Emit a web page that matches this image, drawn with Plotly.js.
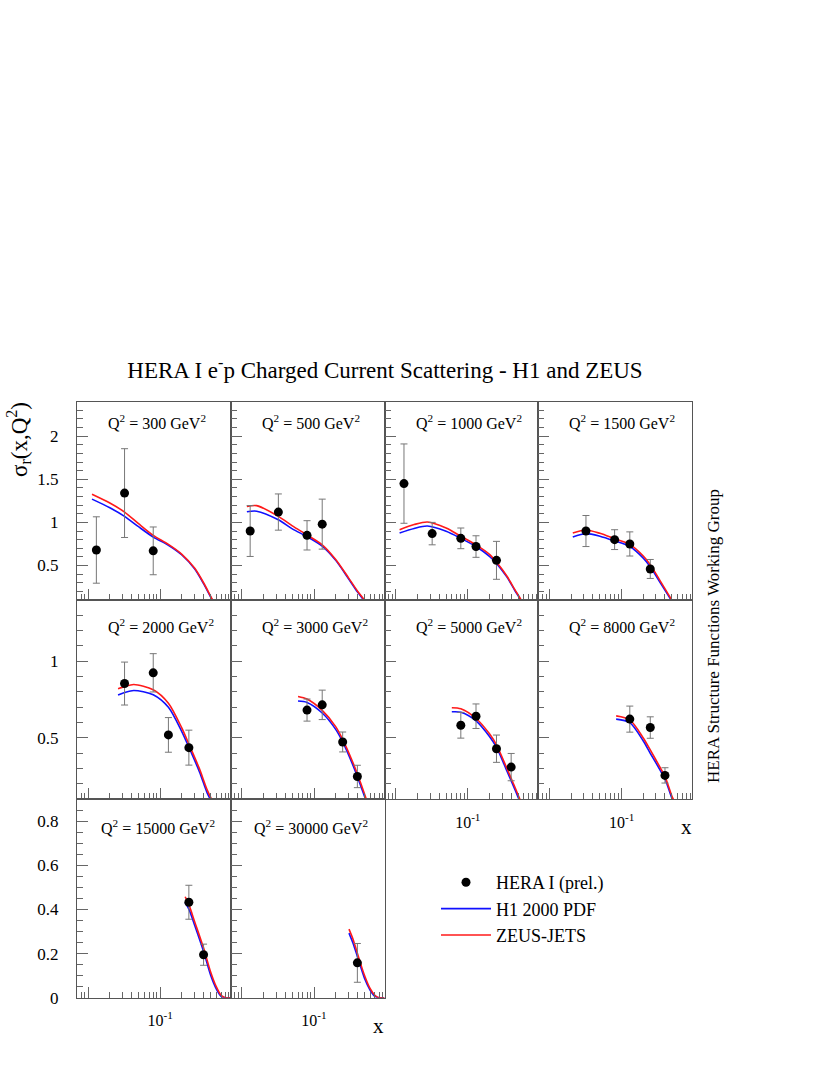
<!DOCTYPE html>
<html><head><meta charset="utf-8">
<script src="https://cdn.plot.ly/plotly-3.0.1.min.js"></script>
<style>body{margin:0;background:#fff}</style>
</head><body><div id="chart" style="width:830px;height:1075px"></div>
<script>
// ---------- DATA ----------
const q2Labels = ['300','500','1000','1500','2000','3000','5000','8000','15000','30000'];

// HERA I (prel.) data points: x, sigma_r, error
const x300 = [0.013, 0.032, 0.08];            const y300 = [0.68, 1.34, 0.67];              const e300 = [0.385, 0.515, 0.277];
const x500 = [0.013, 0.032, 0.08, 0.13];      const y500 = [0.90, 1.12, 0.85, 0.98];        const e500 = [0.295, 0.21, 0.17, 0.29];
const x1000 = [0.013, 0.032, 0.08, 0.13, 0.25]; const y1000 = [1.45, 0.87, 0.815, 0.72, 0.56]; const e1000 = [0.46, 0.13, 0.12, 0.125, 0.22];
const x1500 = [0.032, 0.08, 0.13, 0.25];      const y1500 = [0.90, 0.80, 0.75, 0.46];       const e1500 = [0.18, 0.115, 0.14, 0.11];
const x2000 = [0.032, 0.08, 0.13, 0.25];      const y2000 = [0.855, 0.925, 0.52, 0.437];    const e2000 = [0.14, 0.125, 0.113, 0.114];
const x3000 = [0.08, 0.13, 0.25, 0.4];        const y3000 = [0.682, 0.716, 0.474, 0.249];   const e3000 = [0.072, 0.096, 0.065, 0.073];
const x5000 = [0.08, 0.13, 0.25, 0.4];        const y5000 = [0.583, 0.642, 0.43, 0.31];     const e5000 = [0.084, 0.08, 0.089, 0.089];
const x8000 = [0.13, 0.25, 0.4];              const y8000 = [0.623, 0.568, 0.256];          const e8000 = [0.085, 0.07, 0.05];
const x15000 = [0.25, 0.4];                   const y15000 = [0.433, 0.195];                const e15000 = [0.077, 0.048];
const x30000 = [0.4];                         const y30000 = [0.158];                       const e30000 = [0.088];

// Theory curves: H1 2000 PDF (blue) and ZEUS-JETS (red)
const cx300 = [0.0113, 0.02, 0.032, 0.05, 0.08, 0.13, 0.2, 0.3, 0.4, 0.5, 0.6];
const zeus300 = [1.327, 1.225, 1.12, 0.985, 0.85, 0.745, 0.63, 0.47, 0.30, 0.146, 0.02];
const h1_300 = [1.27, 1.17, 1.07, 0.95, 0.83, 0.735, 0.622, 0.462, 0.29, 0.135, 0.01];

const cx500 = [0.0117, 0.016, 0.032, 0.05, 0.08, 0.13, 0.2, 0.3, 0.4, 0.5, 0.6];
const zeus500 = [1.185, 1.195, 1.07, 0.96, 0.855, 0.74, 0.57, 0.36, 0.205, 0.1, 0.0];
const h1_500 = [1.123, 1.13, 1.03, 0.925, 0.835, 0.725, 0.56, 0.35, 0.195, 0.09, -0.01];

const cx1000 = [0.0113, 0.018, 0.0275, 0.05, 0.08, 0.13, 0.2, 0.25, 0.35, 0.45, 0.55, 0.62];
const zeus1000 = [0.916, 0.975, 1.005, 0.935, 0.839, 0.74, 0.63, 0.54, 0.375, 0.22, 0.1, 0.0];
const h1_1000 = [0.878, 0.93, 0.958, 0.897, 0.815, 0.72, 0.605, 0.525, 0.365, 0.21, 0.09, -0.01];

const cx1500 = [0.021, 0.032, 0.05, 0.08, 0.13, 0.2, 0.25, 0.35, 0.45, 0.55];
const zeus1500 = [0.878, 0.912, 0.873, 0.81, 0.745, 0.61, 0.51, 0.31, 0.16, 0.04];
const h1_1500 = [0.832, 0.87, 0.84, 0.785, 0.72, 0.585, 0.485, 0.29, 0.145, 0.03];

const cx2000 = [0.026, 0.032, 0.043, 0.08, 0.13, 0.2, 0.25, 0.35, 0.45, 0.55];
const zeus2000 = [0.821, 0.835, 0.849, 0.815, 0.727, 0.564, 0.46, 0.30, 0.16, 0.075];
const h1_2000 = [0.78, 0.796, 0.81, 0.782, 0.70, 0.54, 0.44, 0.28, 0.14, 0.06];

const cx3000 = [0.06, 0.08, 0.13, 0.2, 0.25, 0.35, 0.4, 0.5, 0.55];
const zeus3000 = [0.771, 0.754, 0.68, 0.574, 0.491, 0.335, 0.265, 0.138, 0.08];
const h1_3000 = [0.741, 0.732, 0.663, 0.556, 0.474, 0.318, 0.248, 0.122, 0.065];

const cx5000 = [0.06, 0.08, 0.13, 0.2, 0.25, 0.35, 0.45, 0.55];
const zeus5000 = [0.697, 0.69, 0.627, 0.527, 0.455, 0.30, 0.18, 0.08];
const h1_5000 = [0.671, 0.668, 0.612, 0.51, 0.44, 0.283, 0.165, 0.065];

const cx8000 = [0.084, 0.13, 0.2, 0.25, 0.35, 0.4, 0.5, 0.55];
const zeus8000 = [0.644, 0.618, 0.50, 0.422, 0.30, 0.25, 0.12, 0.08];
const h1_8000 = [0.623, 0.60, 0.48, 0.40, 0.283, 0.235, 0.105, 0.065];

const cx15000 = [0.222, 0.25, 0.3, 0.4, 0.5, 0.6, 0.7, 0.8, 0.95];
const zeus15000 = [0.458, 0.422, 0.346, 0.225, 0.118, 0.05, 0.011, 0.0, 0.0];
const h1_15000 = [0.43, 0.402, 0.33, 0.21, 0.103, 0.04, 0.006, 0.0, 0.0];

const cx30000 = [0.306, 0.35, 0.4, 0.5, 0.6, 0.7, 0.8, 0.95];
const zeus30000 = [0.311, 0.263, 0.202, 0.103, 0.042, 0.011, 0.0, 0.0];
const h1_30000 = [0.293, 0.245, 0.187, 0.09, 0.035, 0.006, 0.0, 0.0];

const xMajorTicks = [0.01, 0.1];
const xMajorText = ['', '10<sup>-1</sup>'];
const xMinorTicks = [0.008, 0.009, 0.02, 0.03, 0.04, 0.05, 0.06, 0.07, 0.08, 0.09, 0.2, 0.3, 0.4, 0.5, 0.6, 0.7, 0.8, 0.9];

const seriesNames = ['HERA I (prel.)', 'H1 2000 PDF', 'ZEUS-JETS'];

// ---------- BUILD ----------
const pts = [[x300,y300,e300],[x500,y500,e500],[x1000,y1000,e1000],[x1500,y1500,e1500],[x2000,y2000,e2000],
             [x3000,y3000,e3000],[x5000,y5000,e5000],[x8000,y8000,e8000],[x15000,y15000,e15000],[x30000,y30000,e30000]];
const curves = [[cx300,h1_300,zeus300],[cx500,h1_500,zeus500],[cx1000,h1_1000,zeus1000],[cx1500,h1_1500,zeus1500],
                [cx2000,h1_2000,zeus2000],[cx3000,h1_3000,zeus3000],[cx5000,h1_5000,zeus5000],[cx8000,h1_8000,zeus8000],
                [cx15000,h1_15000,zeus15000],[cx30000,h1_30000,zeus30000]];

const W = 830, H = 1075;
const FONT = 'Liberation Serif, Times New Roman, serif';
const colEdges = [77, 230.8, 384.6, 538.4, 692.2];
const rowEdges = [401.7, 600, 799.3, 997.7];
const rowAxes = [
  {range:[0.1, 2.4], dtick:0.5, minor:0.1},
  {range:[0.1, 1.4], dtick:0.5, minor:0.1},
  {range:[0, 0.9], dtick:0.2, minor:0.05}
];
const lineCol = '#555';
const traces = [];
const layout = {
  width: W, height: H,
  margin: {l:0, r:0, t:0, b:0},
  paper_bgcolor: '#fff', plot_bgcolor: '#fff',
  font: {family: FONT, size: 16, color: '#000'},
  showlegend: true,
  legend: {x: 436/W, y: 1 - 864/H, xanchor: 'left', yanchor: 'top', bgcolor: 'rgba(0,0,0,0)',
           font: {family: FONT, size: 18, color: '#000'}, itemwidth: 50, tracegroupgap: 0},
  title: {text: 'HERA I e<sup>-</sup>p Charged Current Scattering - H1 and ZEUS',
          font: {family: FONT, size: 23, color: '#000'},
          x: 385/W, xanchor: 'center', xref: 'paper', y: 1 - 370/H, yanchor: 'middle', yref: 'paper'},
  annotations: []
};

for (let i = 0; i < 10; i++) {
  const row = Math.floor(i / 4), col = i % 4;
  const xs = i === 0 ? '' : String(i + 1);
  const xid = 'x' + xs, yid = 'y' + xs;
  const showX = (row === 2) || (row === 1 && col >= 2);
  const ra = rowAxes[row];
  layout['xaxis' + xs] = {
    type: 'log', range: [-2.155, -0.02],
    domain: [colEdges[col] / W, colEdges[col + 1] / W],
    anchor: yid,
    showline: true, mirror: true, linecolor: lineCol, linewidth: 1,
    showgrid: false, zeroline: false,
    ticks: 'inside', ticklen: 11, tickwidth: 1, tickcolor: '#666',
    tickmode: 'array', tickvals: xMajorTicks, ticktext: xMajorText,
    showticklabels: showX, ticklabelstandoff: 8,
    tickfont: {family: FONT, size: 16, color: '#000'},
    minor: {tickmode: 'array', tickvals: xMinorTicks, ticks: 'inside', ticklen: 6, tickwidth: 1, tickcolor: '#666', showgrid: false}
  };
  layout['yaxis' + xs] = {
    range: ra.range,
    domain: [1 - rowEdges[row + 1] / H, 1 - rowEdges[row] / H],
    anchor: xid,
    showline: true, mirror: true, linecolor: lineCol, linewidth: 1,
    showgrid: false, zeroline: false,
    ticks: 'inside', ticklen: 11, tickwidth: 1, tickcolor: '#666',
    tick0: 0, dtick: ra.dtick,
    showticklabels: col === 0, ticklabelstandoff: 14,
    tickfont: {family: FONT, size: 17, color: '#000'},
    minor: {tick0: 0, dtick: ra.minor, ticks: 'inside', ticklen: 6, tickwidth: 1, tickcolor: '#666', showgrid: false}
  };
  const c = curves[i];
  traces.push({x: c[0], y: c[1], xaxis: xid, yaxis: yid, type: 'scatter', mode: 'lines',
    line: {color: '#1010ff', width: 1.6, shape: 'spline', smoothing: 0.8},
    name: seriesNames[1], legendgroup: 'h1', showlegend: i === 0, legendrank: 2, hoverinfo: 'skip'});
  traces.push({x: c[0], y: c[2], xaxis: xid, yaxis: yid, type: 'scatter', mode: 'lines',
    line: {color: '#ff1a1a', width: 1.6, shape: 'spline', smoothing: 0.8},
    name: seriesNames[2], legendgroup: 'zeus', showlegend: i === 0, legendrank: 3, hoverinfo: 'skip'});
  const p = pts[i];
  traces.push({x: p[0], y: p[1], xaxis: xid, yaxis: yid, type: 'scatter', mode: 'markers',
    marker: {color: '#000', size: 9, symbol: 'circle'},
    error_y: {type: 'data', array: p[2], visible: true, color: '#777', thickness: 1, width: 3.5},
    name: seriesNames[0], legendgroup: 'data', showlegend: i === 0, legendrank: 1, hoverinfo: 'skip'});

  const labY = [421.7, 626, 826.7][row];
  const labOff = row === 2 ? 21.5 : 29;
  layout.annotations.push({
    text: 'Q<sup>2</sup> = ' + q2Labels[i] + ' GeV<sup>2</sup>',
    xref: 'paper', yref: 'paper', x: (colEdges[col] + labOff) / W, y: 1 - labY / H,
    xanchor: 'left', yanchor: 'middle', showarrow: false,
    font: {family: FONT, size: 16, color: '#000'}
  });
}

layout.annotations.push({
  text: 'σ<sub>r</sub>(x,Q<sup>2</sup>)', xref: 'paper', yref: 'paper', x: 18 / W, y: 1 - 440 / H,
  xanchor: 'center', yanchor: 'middle', textangle: -90, showarrow: false,
  font: {family: FONT, size: 23, color: '#000'}
});
layout.annotations.push({
  text: 'HERA Structure Functions Working Group', xref: 'paper', yref: 'paper', x: 713 / W, y: 1 - 636 / H,
  xanchor: 'center', yanchor: 'middle', textangle: -90, showarrow: false,
  font: {family: FONT, size: 17, color: '#000'}
});
layout.annotations.push({
  text: 'x', xref: 'paper', yref: 'paper', x: 686 / W, y: 1 - 827 / H,
  xanchor: 'center', yanchor: 'middle', showarrow: false, font: {family: FONT, size: 21, color: '#000'}
});
layout.annotations.push({
  text: 'x', xref: 'paper', yref: 'paper', x: 378 / W, y: 1 - 1026 / H,
  xanchor: 'center', yanchor: 'middle', showarrow: false, font: {family: FONT, size: 21, color: '#000'}
});

Plotly.newPlot('chart', traces, layout, {displayModeBar: false, staticPlot: true});
</script></body></html>
